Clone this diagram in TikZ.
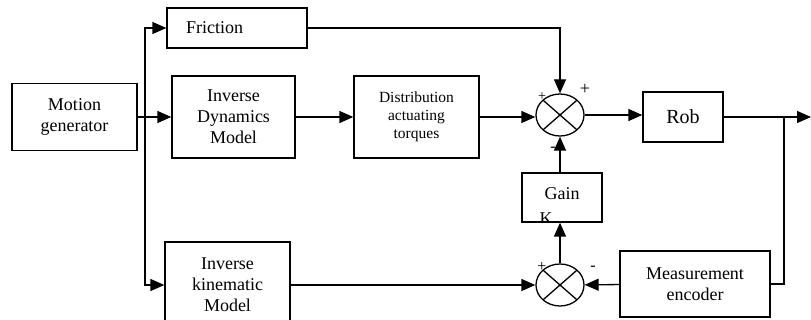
\documentclass[tikz,border=0pt]{standalone}
\usepackage{fontspec}
\setmainfont{Liberation Serif}
\usepackage{tikz}
\usetikzlibrary{
	arrows.meta,
	shapes.geometric
}

\begin{document}
\begin{tikzpicture}[x=1pt, y=-1pt,
		block/.style={draw, line width=1.3pt, align=center, inner sep=2pt, font=\fontsize{18}{21}\selectfont},
		summer/.style={draw, ellipse, line width=1.3pt, minimum width=48pt, minimum height=42pt, inner sep=0pt,
			path picture={\draw[line width=1.3pt] (path picture bounding box.north west) -- (path picture bounding box.south east)
				(path picture bounding box.north east) -- (path picture bounding box.south west);}},
		sig/.style={line width=1.3pt, -{Triangle[length=14pt, width=12pt]}},
		sign/.style={inner sep=0pt, font=\fontsize{18}{18}\selectfont}]
		\useasboundingbox (0,0) rectangle (811,320);
		
		\node[block, minimum width=125, minimum height=67] (mg) at (74.5,117) {Motion\\generator};
		\node[block, minimum width=140, minimum height=40, text width=102pt, inner xsep=19pt, align=left] (fric) at (237,28) {Friction};
		\node[block, minimum width=123, minimum height=82] (idm) at (233.5,117) {Inverse\\Dynamics\\Model};
		\node[block, minimum width=125, minimum height=82, font=\fontsize{15.5}{18}\selectfont] (dist) at (416.5,117) {Distribution\\actuating\\torques};
		\node[summer] (s1) at (560,115) {};
		\node[block, minimum width=80, minimum height=50, font=\fontsize{20}{22}\selectfont] (rob) at (683,117) {Rob};
		\node[block, minimum width=80, minimum height=49, text depth=7pt,
			path picture={\node[inner sep=0pt, font=\fontsize{18}{21}\selectfont] at ([xshift=-16pt, yshift=-24.5pt]path picture bounding box.center) {K};}] (gain) at (562,197.5) {Gain};
		\node[summer] (s2) at (560,285) {};
		\node[block, minimum width=150, minimum height=66] (me) at (695,284) {Measurement\\encoder};
		\node[block, minimum width=125, minimum height=86] (ikm) at (227.5,285) {Inverse\\kinematic\\Model};
		
		\coordinate (split) at (145,117);
		\coordinate (tap) at (784,117);
		\coordinate (out) at (811,117);
		
		\draw[line width=1.3pt] (mg.east) -- (split);
		\draw[sig] (split) -- (idm.west);
		\draw[sig] (split) |- (fric.west);
		\draw[sig] (split) |- (ikm.west);
		\draw[sig] (idm) -- (dist);
		\draw[sig] (dist.east) -- (dist.east -| s1.west);
		\draw[sig] (fric.east) -| (s1.north);
		\draw[sig] (s1.east) -- (s1.east -| rob.west);
		\draw[sig] (rob) -- (out);
		\draw[line width=1.3pt] (tap) |- (me.east);
		\draw[sig] (me) -- (s2);
		\draw[sig] (ikm.east |- s2) -- (s2.west);
		\draw[sig] (s2.north) -- (s2.north |- gain.south);
		\draw[sig] (gain.north -| s1.south) -- (s1.south);
		
		\node[sign] (p1) at (585,89) {+};
		\node[sign, font=\fontsize{14}{14}\selectfont] (p2) at (542,97) {+};
		\node[sign, font=\fontsize{16}{16}\selectfont] (m1) at (553,149) {-};
		\node[sign, font=\fontsize{16}{16}\selectfont] (p3) at (542,267) {+};
		\node[sign, font=\fontsize{16}{16}\selectfont] (m2) at (593,268) {-};
	\end{tikzpicture}
\end{document}
